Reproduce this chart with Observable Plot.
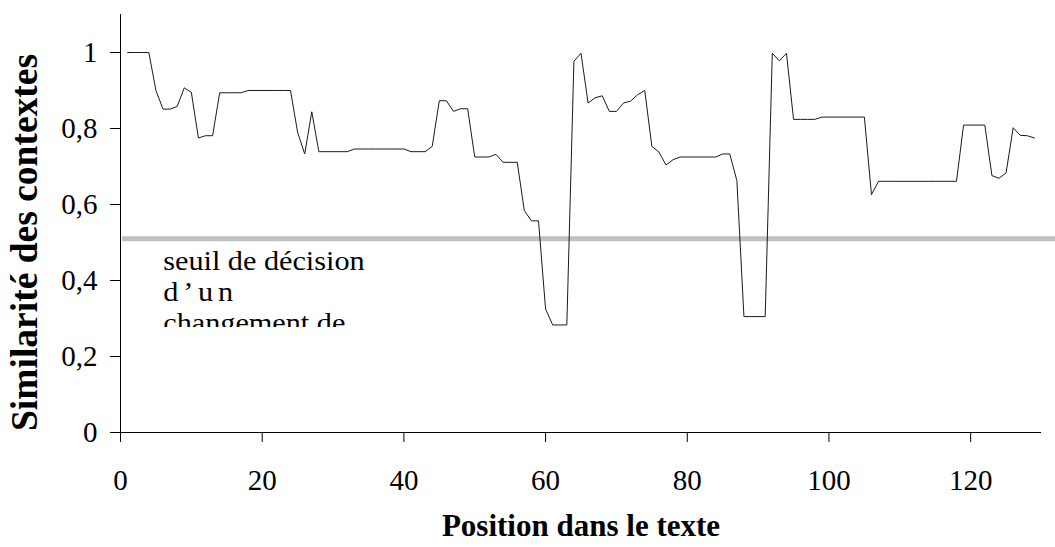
<!DOCTYPE html>
<html>
<head>
<meta charset="utf-8">
<script src="https://cdn.jsdelivr.net/npm/d3@7"></script>
<script src="https://cdn.jsdelivr.net/npm/@observablehq/plot@0.6"></script>
<style>
  html, body { margin: 0; padding: 0; background: #fff; }
  #chart svg { display: block; }
</style>
</head>
<body>
<div id="chart"></div>
<script>
// ---- data ----
const similarity = [
  1.0, 1.0, 1.0, 1.0, 0.90, 0.851, 0.851, 0.858, 0.907, 0.895,
  0.775, 0.781, 0.781, 0.894, 0.894, 0.894, 0.894, 0.90, 0.90, 0.90,
  0.90, 0.90, 0.90, 0.90, 0.79, 0.733, 0.844, 0.739, 0.739, 0.739,
  0.739, 0.739, 0.746, 0.746, 0.746, 0.746, 0.746, 0.746, 0.746, 0.746,
  0.739, 0.739, 0.739, 0.753, 0.873, 0.873, 0.845, 0.852, 0.852, 0.725,
  0.725, 0.725, 0.732, 0.711, 0.711, 0.711, 0.584, 0.557, 0.557, 0.325,
  0.283, 0.283, 0.283, 0.977, 0.998, 0.867, 0.881, 0.886, 0.845, 0.845,
  0.867, 0.872, 0.889, 0.90, 0.753, 0.738, 0.704, 0.718, 0.725, 0.725,
  0.725, 0.725, 0.725, 0.725, 0.733, 0.733, 0.663, 0.305, 0.305, 0.305,
  0.305, 0.998, 0.978, 0.998, 0.824, 0.824, 0.824, 0.824, 0.83, 0.83,
  0.83, 0.83, 0.83, 0.83, 0.83, 0.626, 0.661, 0.661, 0.661, 0.661,
  0.661, 0.661, 0.661, 0.661, 0.661, 0.661, 0.661, 0.661, 0.809, 0.809,
  0.809, 0.809, 0.676, 0.669, 0.683, 0.802, 0.782, 0.781, 0.775
];
const positions = similarity.map((_, i) => i + 1);
const threshold = [0.51];
const xTicks = [0, 20, 40, 60, 80, 100, 120];
const yTicks = [0, 0.2, 0.4, 0.6, 0.8, 1];
const xTitle = "Position dans le texte";
const yTitle = "Similarité des contextes";
const noteLines = ["seuil de décision", "d’un", "changement de"];
const noteAnchor = [{x: 6.1, y: 0.484}];

const data = positions.map((p, i) => ({position: p, value: similarity[i]}));
const fmtY = d => String(d).replace(".", ",");
const serif = "'Liberation Serif', 'Times New Roman', Tinos, 'DejaVu Serif', serif";

const plot = Plot.plot({
  width: 1055,
  height: 547,
  marginLeft: 120,
  marginRight: 14,
  marginTop: 14,
  marginBottom: 115,
  style: {fontFamily: serif, fontSize: "29px", color: "#000", background: "#fff"},
  x: {domain: [0, 130]},
  y: {domain: [0, 1.1]},
  marks: [
    Plot.ruleY(threshold, {x1: 0.3, x2: 132, stroke: "#c0c0c0", strokeWidth: 5, clip: false}),
    Plot.line(data, {x: "position", y: "value", stroke: "#1a1a1a", strokeWidth: 1}),
    Plot.text(noteAnchor, {
      x: "x", y: "y", text: () => noteLines.join("\n"),
      textAnchor: "start", lineAnchor: "top", lineHeight: 1.1,
      fontSize: 28, fill: "#000"
    }),
    Plot.ruleX([0], {y1: 0, y2: 1.1, stroke: "#000", strokeWidth: 1}),
    Plot.ruleY([0], {x1: 0, x2: 130, stroke: "#000", strokeWidth: 1}),
    Plot.axisX({
      ticks: xTicks, tickSize: 10, tickPadding: 27, tickFormat: d => String(d),
      label: xTitle, labelAnchor: "center", labelArrow: "none", labelOffset: 103,
      fontSize: 29
    }),
    Plot.axisY({
      ticks: yTicks, tickSize: 10, tickPadding: 13, tickFormat: fmtY,
      label: yTitle, labelAnchor: "center", labelArrow: "none", labelOffset: 110,
      fontSize: 29
    })
  ]
});

const svg = d3.select(plot);
const ys = plot.scale("y");
const xs = plot.scale("x");

svg.selectAll("g, text, tspan").attr("font-family", null);
svg.selectAll("text, tspan").style("font-family", serif);

// bold axis titles
svg.selectAll("g[aria-label='x-axis label'] text")
  .attr("font-weight", "bold").attr("font-size", 31);
svg.selectAll("g[aria-label='y-axis label'] text")
  .attr("font-weight", "bold").attr("font-size", 37.5)
  .each(function () {
    const t = d3.select(this);
    const m = /translate\(([-\d.]+),\s*([-\d.]+)\)/.exec(t.attr("transform") || "");
    if (m) t.attr("transform", `translate(${m[1]},${ys.apply(0.5)}) rotate(-90)`);
  });

// annotation: slightly wide face, spaced second line, clipped text box (as in the source)
const noteG = svg.select("g[aria-label='text']");
noteG.selectAll("tspan").filter((_, i) => i === 1).attr("letter-spacing", 4.5);
const x0 = xs.apply(noteAnchor[0].x);
const defs = svg.insert("defs", ":first-child");
defs.append("clipPath").attr("id", "noteclip")
  .append("rect")
  .attr("x", xs.apply(0))
  .attr("y", ys.apply(0.5))
  .attr("width", xs.apply(45) - xs.apply(0))
  .attr("height", ys.apply(0.276) - ys.apply(0.5));
// wrap: outer group clips (untransformed), inner group is stretched horizontally
const outer = svg.insert("g", () => noteG.node()).attr("clip-path", "url(#noteclip)");
outer.node().appendChild(noteG.node());
noteG.attr("transform", `translate(${x0},0) scale(1.08,1) translate(${-x0},0)`);

document.getElementById("chart").appendChild(plot);
</script>
</body>
</html>
